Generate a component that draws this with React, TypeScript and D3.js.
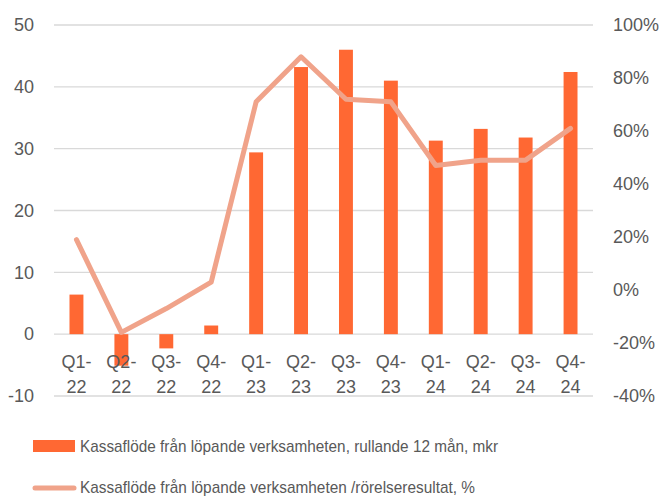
import React from "react";
import * as d3 from "d3";

// Quarters shown on the x axis, split over two lines
const quarters = [
  "Q1-22", "Q2-22", "Q3-22", "Q4-22",
  "Q1-23", "Q2-23", "Q3-23", "Q4-23",
  "Q1-24", "Q2-24", "Q3-24", "Q4-24",
];
// Cash flow, rolling 12 months, mkr (left axis)
const cashFlow = [6.4, -5.1, -2.3, 1.4, 29.4, 43.2, 46.0, 41.0, 31.3, 33.2, 31.8, 42.4];
// Cash flow / operating result, % (right axis)
const cashRatio = [19, -16, -7, 3, 71, 88, 72, 71, 47, 49, 49, 61];

const leftTicks = [-10, 0, 10, 20, 30, 40, 50];
const rightTicks = [-40, -20, 0, 20, 40, 60, 80, 100];

const legendBar = "Kassaflöde från löpande verksamheten, rullande 12 mån, mkr";
const legendLine = "Kassaflöde från löpande verksamheten /rörelseresultat, %";

const W = 662;
const H = 498;
const plot = { left: 54, right: 593, top: 25, bottom: 396 };
const BAR = "#FF6833";
const LINE = "#F0A38A";
const TEXT = "#595959";
const FONT = "'Liberation Sans', Arial, sans-serif";

export default function App() {
  const x = d3
    .scaleBand()
    .domain(quarters)
    .range([plot.left, plot.right])
    .paddingInner(0.69)
    .paddingOuter(0.345);
  const yL = d3.scaleLinear().domain([-10, 50]).range([plot.bottom, plot.top]);
  const yR = d3.scaleLinear().domain([-40, 100]).range([plot.bottom, plot.top]);

  const line = d3
    .line<number>()
    .x((_, i) => x(quarters[i])! + x.bandwidth() / 2)
    .y((d) => yR(d));

  return (
    <svg
      width={W}
      height={H}
      style={{ position: "absolute", left: 0, top: 0, background: "#fff" }}
      fontFamily={FONT}
    >
      {/* gridlines */}
      {leftTicks.map((t) => (
        <line
          key={t}
          x1={plot.left}
          x2={plot.right}
          y1={yL(t)}
          y2={yL(t)}
          stroke="#d9d9d9"
          strokeWidth={1.3}
        />
      ))}

      {/* left axis labels */}
      {leftTicks.map((t) => (
        <text key={t} x={34} y={yL(t)} dy="0.35em" textAnchor="end" fontSize={18} fill={TEXT}>
          {t}
        </text>
      ))}

      {/* right axis labels */}
      {rightTicks.map((t) => (
        <text key={t} x={613} y={yR(t)} dy="0.35em" textAnchor="start" fontSize={18} fill={TEXT}>
          {t}%
        </text>
      ))}

      {/* bars */}
      {cashFlow.map((v, i) => (
        <rect
          key={quarters[i]}
          x={x(quarters[i])}
          width={x.bandwidth()}
          y={Math.min(yL(v), yL(0))}
          height={Math.abs(yL(v) - yL(0))}
          fill={BAR}
        />
      ))}

      {/* x labels */}
      {quarters.map((q) => {
        const [a, b] = q.split("-");
        const cx = x(q)! + x.bandwidth() / 2;
        return (
          <text key={q} x={cx} textAnchor="middle" fontSize={18} fill={TEXT}>
            <tspan x={cx} y={368}>{a}-</tspan>
            <tspan x={cx} y={393}>{b}</tspan>
          </text>
        );
      })}

      {/* ratio line */}
      <path
        d={line(cashRatio) ?? ""}
        fill="none"
        stroke={LINE}
        strokeWidth={5}
        strokeLinejoin="round"
        strokeLinecap="round"
      />

      {/* legend */}
      <rect x={33} y={440} width={42} height={12} fill={BAR} />
      <text x={80} y={452} fontSize={17} fill={TEXT} textLength={418} lengthAdjust="spacingAndGlyphs">
        {legendBar}
      </text>
      <line x1={35} x2={74} y1={488} y2={488} stroke={LINE} strokeWidth={5} strokeLinecap="round" />
      <text x={80} y={493} fontSize={17} fill={TEXT} textLength={395} lengthAdjust="spacingAndGlyphs">
        {legendLine}
      </text>
    </svg>
  );
}
